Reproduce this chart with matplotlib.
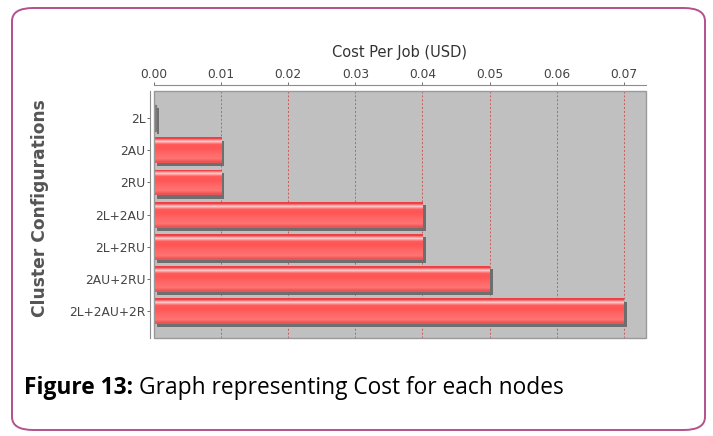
import numpy as np
import matplotlib.pyplot as plt
import matplotlib.patheffects as pe
from matplotlib.patches import FancyBboxPatch, Rectangle

configs = ['2L', '2AU', '2RU', '2L+2AU', '2L+2RU', '2AU+2RU', '2L+2AU+2R']
cost_per_job = [0.0003, 0.010, 0.010, 0.040, 0.040, 0.050, 0.070]
x_ticks = [0.00, 0.01, 0.02, 0.03, 0.04, 0.05, 0.06, 0.07]

W, H = 713, 436
fig = plt.figure(figsize=(W / 100, H / 100), dpi=100)

# rounded outer frame of the figure box
frame = FancyBboxPatch((12 / W, 6 / H), 693 / W, 422 / H,
                       boxstyle='round,pad=0,rounding_size=0.03',
                       transform=fig.transFigure, facecolor='none',
                       edgecolor='#b4508c', linewidth=1.4, zorder=-1)
fig.patches.append(frame)

ax = fig.add_axes([154 / W, 1 - 338 / H, 492 / W, 247 / H])
ax.set_facecolor('#c0c0c0')

ypos = np.arange(len(configs))
bar_h = 0.8

# vertical shading for the bars: thin highlight near the top, darker bottom edge
shade = np.array([
    [0.93, 0.25, 0.27],
    [1.00, 0.80, 0.80],
    [1.00, 0.36, 0.36],
    [1.00, 0.33, 0.33],
    [1.00, 0.36, 0.36],
    [1.00, 0.40, 0.40],
    [1.00, 0.43, 0.43],
    [1.00, 0.45, 0.45],
    [0.92, 0.33, 0.33],
])[:, None, :]

for y, v in zip(ypos, cost_per_job):
    bar = ax.barh(y, v, height=bar_h, color='#ff5c5c', edgecolor='none', zorder=3)[0]
    bar.set_path_effects([pe.SimplePatchShadow(offset=(2.3, -2.3), shadow_rgbFace='#6e6e6e', alpha=1.0),
                          pe.Normal()])
    if v > 0.001:
        img = ax.imshow(shade, aspect='auto', interpolation='bilinear',
                        extent=(0, v, y + bar_h / 2, y - bar_h / 2), zorder=4)
        img.set_clip_path(bar)
    else:
        bar.set_color('#7a7a7a')

ax.set_xlim(0, 0.0733)
ax.set_ylim(6.83, -0.84)

ax.set_xticks(x_ticks)
ax.set_xticklabels([f'{t:.2f}' for t in x_ticks])
ax.set_yticks(ypos)
ax.set_yticklabels(configs)
ax.xaxis.tick_top()
ax.xaxis.set_label_position('top')
ax.tick_params(axis='both', colors='#555555', labelcolor='#444444', labelsize=8.8,
               length=2, width=0.6, pad=1.2)

ax.grid(axis='x', color='#cc5a5a', linestyle=(0, (2, 2)), linewidth=0.7, zorder=1)
ax.set_axisbelow(True)

for side in ['right', 'bottom']:
    ax.spines[side].set_visible(False)
ax.spines['top'].set_position(('outward', 4))
ax.spines['left'].set_position(('outward', 3))
for side in ['top', 'left']:
    ax.spines[side].set_color('#8c8c8c')
    ax.spines[side].set_linewidth(0.8)
ax.add_patch(Rectangle((0, 0), 1, 1, transform=ax.transAxes, fill=False,
                       edgecolor='#999999', linewidth=1.0, zorder=6, clip_on=False))

ax.set_xlabel('Cost Per Job (USD)', fontsize=10.5, color='#333333', labelpad=8)
fig.text(40 / W, 1 - 208 / H, 'Cluster Configurations', rotation=90, fontsize=12.3,
         fontweight='bold', color='#555555', ha='center', va='center')

# caption: bold lead-in followed by plain text
renderer = fig.canvas.get_renderer()
lead = fig.text(24 / W, 1 - 388 / H, 'Figure 13:', fontsize=16.4, fontweight='bold',
                family='Open Sans', va='center', ha='left')
lead_end = lead.get_window_extent(renderer).x1
fig.text((lead_end + 6) / W, 1 - 388 / H, 'Graph representing Cost for each nodes',
         fontsize=16.4, family='Open Sans', va='center', ha='left')

fig.savefig('out.png', dpi=100)
